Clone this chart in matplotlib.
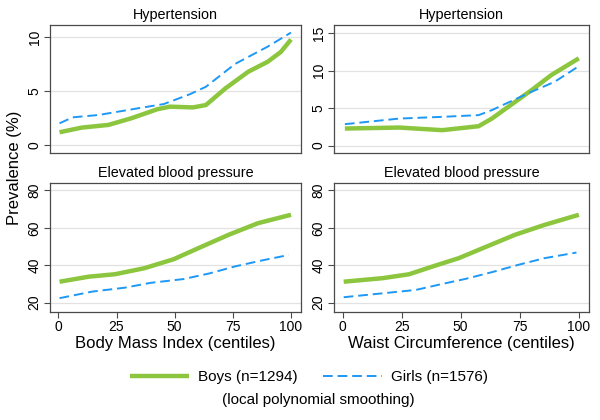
import matplotlib
matplotlib.use("Agg")
import matplotlib.pyplot as plt
from matplotlib.lines import Line2D

plt.rcParams['font.family'] = ['Liberation Sans', 'DejaVu Sans']

# ---- data ----
ht_bmi_boys_x = [0.5, 10, 21.5, 31.3, 42.5, 48, 57.9, 63.4, 71.8, 81.6, 90, 95.6, 100]
ht_bmi_boys_y = [1.17, 1.6, 1.85, 2.46, 3.3, 3.54, 3.47, 3.69, 5.23, 6.77, 7.7, 8.6, 9.76]
ht_bmi_girls_x = [0.5, 6.1, 17.3, 34, 45.3, 56.4, 63.4, 76, 90, 100]
ht_bmi_girls_y = [2.0, 2.55, 2.77, 3.38, 3.78, 4.68, 5.38, 7.5, 9.1, 10.4]

ht_wc_boys_x = [1, 24, 42.2, 57.6, 63.2, 80, 88.3, 100]
ht_wc_boys_y = [2.27, 2.4, 2.05, 2.58, 3.6, 7.4, 9.4, 11.65]
ht_wc_girls_x = [1, 24, 42.2, 57.6, 63.2, 80, 89.7, 100]
ht_wc_girls_y = [2.85, 3.6, 3.83, 4.06, 4.73, 7.18, 8.5, 10.6]

ebp_bmi_boys_x = [0.5, 13.1, 24.3, 36.9, 49.5, 59.2, 73.2, 85.8, 100]
ebp_bmi_boys_y = [31.2, 33.9, 35.2, 38.4, 43.2, 48.6, 56.3, 62.5, 67]
ebp_bmi_girls_x = [0.5, 14.5, 28.5, 39.7, 53.7, 64.8, 76, 87.2, 99]
ebp_bmi_girls_y = [22.4, 25.9, 28.0, 30.6, 32.6, 35.6, 39.4, 42.5, 45.5]

ebp_wc_boys_x = [0.5, 17, 28.2, 38, 49.2, 60.4, 73, 85.5, 100]
ebp_wc_boys_y = [31.2, 33.1, 35.2, 39.3, 43.8, 49.7, 56.3, 61.6, 67]
ebp_wc_girls_x = [0.5, 17, 31, 42.2, 52, 63.2, 74.3, 85.5, 99]
ebp_wc_girls_y = [22.9, 25.0, 26.8, 30.0, 32.7, 36.3, 40.2, 43.8, 46.8]

panel_titles = ["Hypertension", "Hypertension", "Elevated blood pressure", "Elevated blood pressure"]
x_labels = ["Body Mass Index (centiles)", "Waist Circumference (centiles)"]
y_label = "Prevalence (%)"
boys_label = "Boys (n=1294)"
girls_label = "Girls (n=1576)"
note = "(local polynomial smoothing)"

GREEN = '#8cc63f'
BLUE = '#1e98f5'
FRAME = '#4a4a4a'

W, H = 600, 420
fig = plt.figure(figsize=(W / 100, H / 100), dpi=100)

def px_axes(l, t, r, b):
    return fig.add_axes([l / W, 1 - b / H, (r - l) / W, (b - t) / H])

panels = [
    (px_axes(50, 25, 301, 153), ht_bmi_boys_x, ht_bmi_boys_y, ht_bmi_girls_x, ht_bmi_girls_y,
     (-0.75, 11.1), [0, 5, 10], False),
    (px_axes(334, 25, 589, 153), ht_wc_boys_x, ht_wc_boys_y, ht_wc_girls_x, ht_wc_girls_y,
     (-1.0, 16.1), [0, 5, 10, 15], False),
    (px_axes(50, 183, 301, 312), ebp_bmi_boys_x, ebp_bmi_boys_y, ebp_bmi_girls_x, ebp_bmi_girls_y,
     (15, 84), [20, 40, 60, 80], True),
    (px_axes(334, 183, 589, 312), ebp_wc_boys_x, ebp_wc_boys_y, ebp_wc_girls_x, ebp_wc_girls_y,
     (15, 84), [20, 40, 60, 80], True),
]

for i, (ax, bx, by, gx, gy, ylim, yt, showx) in enumerate(panels):
    ax.plot(bx, by, color=GREEN, lw=3.2, solid_capstyle='butt', zorder=3)
    ax.plot(gx, gy, color=BLUE, lw=1.4, dashes=(5, 2.5), zorder=4)
    ax.set_xlim(-3.6, 104.3)
    ax.set_ylim(*ylim)
    ax.set_yticks(yt)
    ax.set_yticklabels([str(v) for v in yt], rotation=90, va='center', fontsize=10)
    ax.yaxis.grid(True, color='#e2e2e2', lw=0.9)
    ax.set_axisbelow(True)
    for s in ax.spines.values():
        s.set_color(FRAME)
        s.set_linewidth(0.9)
    ax.tick_params(axis='y', direction='out', length=4, width=0.8, color=FRAME, pad=2)
    if showx:
        ax.set_xticks([0, 25, 50, 75, 100])
        ax.set_xticklabels(['0', '25', '50', '75', '100'], fontsize=10)
        ax.tick_params(axis='x', direction='out', length=4, width=0.8, color=FRAME, pad=2)
        ax.set_xlabel(x_labels[i - 2], fontsize=12, labelpad=1.5)
    else:
        ax.set_xticks([])
    ax.set_title(panel_titles[i], fontsize=10.4, pad=4)

fig.text(15 / W, 1 - 168 / H, y_label, rotation=90, ha='center', va='center', fontsize=12)

handles = [Line2D([], [], color=GREEN, lw=3.2, solid_capstyle='butt'),
           Line2D([], [], color=BLUE, lw=1.4, dashes=(5, 2.5))]
fig.legend(handles, [boys_label, girls_label], loc='center', bbox_to_anchor=(0.515, 1 - 377 / H),
           ncol=2, frameon=False, fontsize=11, handlelength=3.9, columnspacing=1.6,
           handletextpad=0.6)
fig.text(0.53, 1 - 400 / H, note, ha='center', va='center', fontsize=11)

fig.savefig('out.png', dpi=100)
